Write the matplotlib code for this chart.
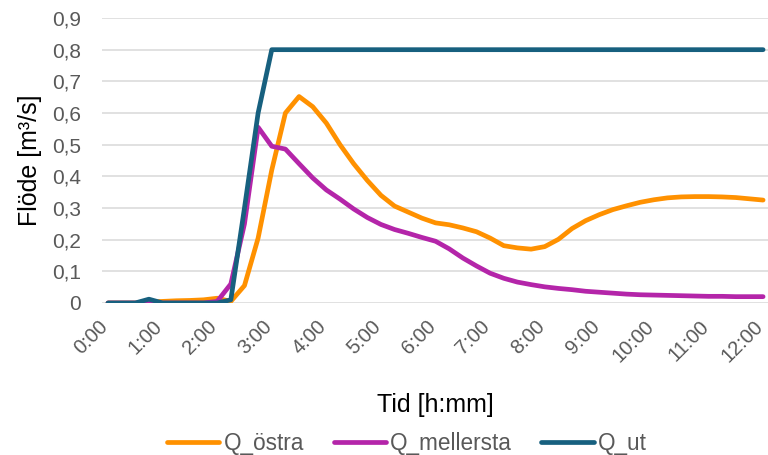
import matplotlib
matplotlib.use("Agg")
import matplotlib.pyplot as plt
import matplotlib.transforms as mtransforms

plt.rcParams["font.family"] = ["Liberation Sans", "DejaVu Sans"]

# time stamps every 15 minutes
TIMES = [
    "0:00", "0:15", "0:30", "0:45", "1:00", "1:15", "1:30", "1:45",
    "2:00", "2:15", "2:30", "2:45", "3:00", "3:15", "3:30", "3:45",
    "4:00", "4:15", "4:30", "4:45", "5:00", "5:15", "5:30", "5:45",
    "6:00", "6:15", "6:30", "6:45", "7:00", "7:15", "7:30", "7:45",
    "8:00", "8:15", "8:30", "8:45", "9:00", "9:15", "9:30", "9:45",
    "10:00", "10:15", "10:30", "10:45", "11:00", "11:15", "11:30", "11:45",
    "12:00",
]

Q_OSTRA = [
    0.0, 0.0, 0.0, 0.003, 0.005, 0.007, 0.008, 0.010,
    0.015, 0.005, 0.055, 0.205, 0.420, 0.600, 0.652, 0.620,
    0.568, 0.500, 0.440, 0.387, 0.340, 0.306, 0.287, 0.268,
    0.253, 0.247, 0.237, 0.225, 0.205, 0.181, 0.174, 0.170,
    0.178, 0.201, 0.235, 0.260, 0.279, 0.295, 0.307, 0.318,
    0.326, 0.332, 0.335, 0.336, 0.336, 0.335, 0.333, 0.329,
    0.325,
]

Q_MELLERSTA = [
    0.0, 0.0, 0.0, 0.0, 0.0, 0.0, 0.0, 0.0,
    0.005, 0.060, 0.250, 0.555, 0.495, 0.486, 0.440, 0.395,
    0.357, 0.328, 0.297, 0.270, 0.248, 0.232, 0.220, 0.207,
    0.195, 0.171, 0.142, 0.117, 0.094, 0.078, 0.066, 0.058,
    0.051, 0.046, 0.042, 0.037, 0.034, 0.031, 0.028, 0.026,
    0.025, 0.024, 0.023, 0.022, 0.021, 0.021, 0.020, 0.020,
    0.020,
]

Q_UT = [
    0.0, 0.0, 0.0, 0.012, 0.0, 0.0, 0.0, 0.0,
    0.0, 0.010, 0.300, 0.600, 0.800, 0.800, 0.800, 0.800,
    0.800, 0.800, 0.800, 0.800, 0.800, 0.800, 0.800, 0.800,
    0.800, 0.800, 0.800, 0.800, 0.800, 0.800, 0.800, 0.800,
    0.800, 0.800, 0.800, 0.800, 0.800, 0.800, 0.800, 0.800,
    0.800, 0.800, 0.800, 0.800, 0.800, 0.800, 0.800, 0.800,
    0.800,
]

HOUR_LABELS = ["0:00", "1:00", "2:00", "3:00", "4:00", "5:00", "6:00",
               "7:00", "8:00", "9:00", "10:00", "11:00", "12:00"]
Y_TICKS = [0, 0.1, 0.2, 0.3, 0.4, 0.5, 0.6, 0.7, 0.8, 0.9]


def to_hours(s):
    h, m = s.split(":")
    return int(h) + int(m) / 60


GREY = "#595959"

x = [to_hours(t) for t in TIMES]

fig = plt.figure(figsize=(7.68, 4.55), dpi=100)
ax = fig.add_axes([0.1328, 0.3341, 0.8672, 0.6263])

ax.plot(x, Q_OSTRA, color="#FF9100", lw=3.4, label="Q_östra",
        solid_capstyle="round", solid_joinstyle="round")
ax.plot(x, Q_MELLERSTA, color="#B425A9", lw=3.4, label="Q_mellersta",
        solid_capstyle="round", solid_joinstyle="round")
ax.plot(x, Q_UT, color="#17607F", lw=3.4, label="Q_ut",
        solid_capstyle="round", solid_joinstyle="round")

ax.set_xlim(-0.11, 12.09)
ax.set_ylim(0, 0.9)

ax.set_yticks(Y_TICKS)
ax.set_yticklabels(["0" if v == 0 else f"{v:.1f}".replace(".", ",") for v in Y_TICKS])
ax.set_xticks([to_hours(h) for h in HOUR_LABELS])
ax.set_xticklabels(HOUR_LABELS)

ax.grid(axis="y", color="#D9D9D9", lw=1.1)
ax.set_axisbelow(True)
for sp in ax.spines.values():
    sp.set_visible(False)

ax.tick_params(axis="y", length=0, pad=15, labelsize=15, labelcolor=GREY)
ax.tick_params(axis="x", length=0, pad=15, labelsize=14.5, labelcolor=GREY)
shift = mtransforms.ScaledTranslation(-3 / 100, 0, fig.dpi_scale_trans)
for lab in ax.get_xticklabels():
    lab.set_rotation(45)
    lab.set_ha("right")
    lab.set_va("center")
    lab.set_rotation_mode("anchor")
    lab.set_transform(lab.get_transform() + shift)

ax.set_ylabel("Flöde [m³/s]", fontsize=18, labelpad=7)
ax.set_xlabel("Tid [h:mm]", fontsize=18)
ax.xaxis.set_label_coords(0.5, -0.315)

fig.legend(loc="center", bbox_to_anchor=(0.530, 0.026), ncol=3,
           frameon=False, fontsize=16.3, handlelength=2.3, handletextpad=0.2,
           columnspacing=1.3, labelcolor=GREY)

fig.savefig("out.png", dpi=100)
